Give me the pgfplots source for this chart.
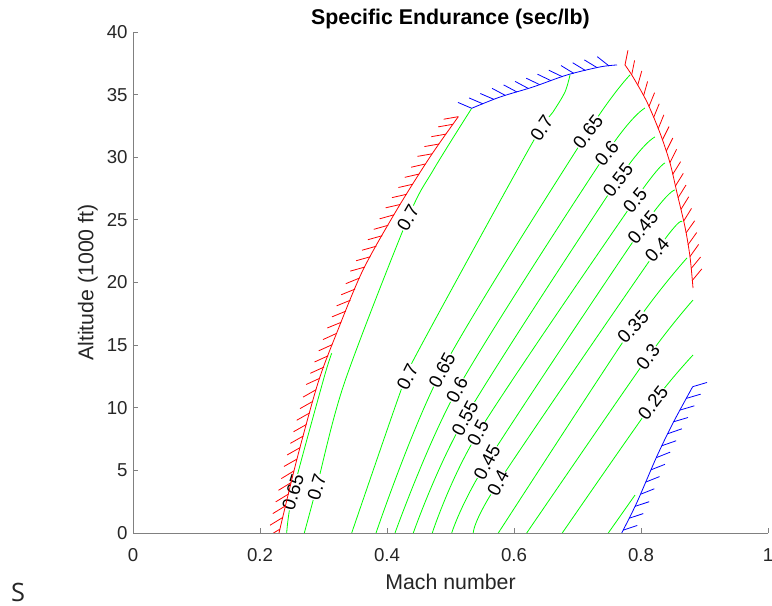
\documentclass[border=0pt]{standalone}
\usepackage{fontspec}
\setmainfont{Liberation Sans}
\newfontfamily\sfont{Open Sans}
\usepackage{pgfplots}
\usepackage{pgfplotstable}
\pgfplotsset{compat=1.18}
\definecolor{axgray}{RGB}{128,128,128}
\definecolor{labgray}{RGB}{38,38,38}
\definecolor{cgreen}{RGB}{0,255,0}
\definecolor{cred}{RGB}{255,0,0}
\definecolor{cblue}{RGB}{0,0,255}
\tikzset{
  clab/.style={fill=white,inner sep=0.3pt,text=black,font=\fontsize{14}{15}\selectfont}
}
% hatch bases (x y) and hatch vectors (u v), data units
\pgfplotstableread{
x y u v
0.2314 0.311 -0.01747 -0.5405
0.2359 1.242 -0.01747 -0.5405
0.2403 2.172 -0.01747 -0.5405
0.2448 3.106 -0.01747 -0.5405
0.2492 4.032 -0.01747 -0.5405
0.2537 4.966 -0.01747 -0.5405
0.2582 5.898 -0.01781 -0.511
0.2632 6.818 -0.01781 -0.511
0.2683 7.745 -0.01781 -0.511
0.2733 8.671 -0.01781 -0.511
0.2783 9.589 -0.01781 -0.511
0.2834 10.515 -0.01781 -0.511
0.2884 11.441 -0.01781 -0.511
0.2941 12.351 -0.01863 -0.430
0.3007 13.246 -0.01863 -0.430
0.3073 14.148 -0.01863 -0.430
0.3139 15.042 -0.01863 -0.430
0.3206 15.936 -0.01863 -0.430
0.3278 16.822 -0.01894 -0.394
0.3351 17.709 -0.01894 -0.394
0.3424 18.587 -0.01894 -0.394
0.3497 19.473 -0.01894 -0.394
0.3569 20.359 -0.01894 -0.394
0.3648 21.230 -0.01971 -0.281
0.3740 22.060 -0.01971 -0.281
0.3833 22.898 -0.01971 -0.281
0.3925 23.737 -0.01971 -0.281
0.4018 24.567 -0.01971 -0.281
0.4110 25.405 -0.01971 -0.281
0.4207 26.228 -0.01995 -0.2318
0.4308 27.042 -0.01995 -0.2318
0.4408 27.848 -0.01995 -0.2318
0.4509 28.663 -0.01995 -0.2318
0.4609 29.469 -0.01995 -0.2318
0.4712 30.275 -0.02017 -0.1786
0.4821 31.058 -0.02017 -0.1786
0.4930 31.848 -0.02017 -0.1786
0.5039 32.631 -0.02017 -0.1786
0.5123 33.240 -0.02017 -0.1786
}\hatchRedLeft
\pgfplotstableread{
x y u v
0.7748 37.365 0.00401 1.018
0.7853 36.567 0.00401 1.018
0.7948 35.740 0.00556 0.999
0.8040 34.905 0.00556 0.999
0.8125 34.051 0.00775 0.961
0.8198 33.166 0.00775 0.961
0.8271 32.283 0.00775 0.961
0.8336 31.383 0.00917 0.928
0.8396 30.474 0.00917 0.928
0.8455 29.563 0.00917 0.928
0.8499 28.631 0.01082 0.881
0.8541 27.698 0.01082 0.881
0.8584 26.765 0.01079 0.882
0.8628 25.832 0.01079 0.882
0.8671 24.898 0.01079 0.882
0.8709 23.959 0.01189 0.845
0.8740 23.013 0.01189 0.845
0.8771 22.068 0.01189 0.845
0.8789 21.113 0.01302 0.801
0.8807 20.158 0.01302 0.801
}\hatchRedRight
\pgfplotstableread{
x y u v
0.5334 33.908 -0.01882 0.4088
0.5510 34.264 -0.01882 0.4088
0.5685 34.619 -0.01882 0.4088
0.5863 34.938 -0.01806 0.4888
0.6044 35.216 -0.01806 0.4888
0.6225 35.494 -0.01806 0.4888
0.6404 35.797 -0.01846 0.4485
0.6582 36.115 -0.01846 0.4485
0.6760 36.434 -0.01846 0.4485
0.6941 36.699 -0.01747 0.5407
0.7125 36.924 -0.01747 0.5407
0.7309 37.150 -0.01747 0.5407
0.7496 37.290 -0.01606 0.6433
}\hatchBlueTop
\pgfplotstableread{
x y u v
0.8814 11.681 0.01963 0.2948
0.8714 10.747 0.01963 0.2948
0.8614 9.814 0.01963 0.2948
0.8514 8.881 0.01963 0.2948
0.8422 7.927 0.01933 0.3414
0.8331 6.971 0.01933 0.3414
0.8240 6.014 0.01903 0.3821
0.8158 5.043 0.01903 0.3821
0.8074 4.065 0.01903 0.3821
0.7991 3.090 0.01903 0.3821
0.7905 2.122 0.01943 0.3276
0.7812 1.173 0.01943 0.3276
0.7718 0.223 0.01943 0.3276
}\hatchBlueRight
\begin{document}
\begin{tikzpicture}
\useasboundingbox (0,0) rectangle (579pt,454.5pt);
\node[font=\sfont\fontsize{19}{21}\selectfont,text=black!85] at (13.5pt,10.5pt) {S};
\begin{axis}[
  at={(99.75pt,54.75pt)}, anchor=south west,
  scale only axis, width=476.25pt, height=375.75pt,
  xmin=0, xmax=1, ymin=0, ymax=40,
  axis x line*=bottom, axis y line*=left,
  axis line style={draw=axgray, line width=0.6pt, -},
  tick style={draw=axgray, line width=0.6pt},
  tick align=inside, major tick length=4pt,
  xtick={0,0.2,0.4,0.6,0.8,1}, ytick={0,5,10,15,20,25,30,35,40},
  /pgf/number format/assume math mode=true,
  tick label style={font=\fontsize{14}{15}\selectfont, text=labgray},
  xticklabel style={yshift=-8pt},
  yticklabel style={xshift=-0.5pt},
  xlabel={Mach number}, ylabel={Altitude (1000 ft)},
  label style={font=\fontsize{16}{17}\selectfont, text=labgray},
  xlabel style={at={(axis description cs:0.5,-0.098)}, anchor=center},
  ylabel style={at={(axis description cs:-0.071,0.5)}, anchor=center},
  title={Specific Endurance (sec/lb)},
  every axis title shift=0pt,
  title style={font=\bfseries\fontsize{16}{17}\selectfont, text=black, at={(axis description cs:0.5,1.026)}, anchor=center},
]
% contours
\addplot[cgreen, line width=0.6pt, smooth] coordinates {(0.242,0) (0.252,3.27) (0.2997,12.2) (0.3129,14.35)};
\addplot[cgreen, line width=0.6pt, smooth] coordinates {(0.2698,0) (0.2893,3.67) (0.333,12.0) (0.4331,25.15) (0.4729,28.98) (0.5334,33.91)};
\addplot[cgreen, line width=0.6pt, smooth] coordinates {(0.3444,0) (0.4205,11.18) (0.4441,14.05) (0.6252,30.82) (0.6614,33.61) (0.6803,35.21) (0.6882,36.57)};
\addplot[cgreen, line width=0.6pt, smooth] coordinates {(0.3827,0) (0.4866,13.01) (0.7165,32.02) (0.7827,36.57)};
\addplot[cgreen, line width=0.6pt, smooth] coordinates {(0.4126,0) (0.5102,11.42) (0.746,30.34) (0.8063,33.93)};
\addplot[cgreen, line width=0.6pt, smooth] coordinates {(0.4414,0) (0.5228,9.18) (0.7638,28.18) (0.822,31.62)};
\addplot[cgreen, line width=0.6pt, smooth] coordinates {(0.4713,0) (0.5433,7.98) (0.7906,26.59) (0.8378,29.54)};
\addplot[cgreen, line width=0.6pt, smooth] coordinates {(0.5019,0) (0.5575,5.67) (0.8031,24.43) (0.8535,27.39)};
\addplot[cgreen, line width=0.6pt, smooth] coordinates {(0.5359,0) (0.5748,3.99) (0.8252,22.59) (0.8646,24.83)};
\addplot[cgreen, line width=0.6pt, smooth] coordinates {(0.5753,0) (0.7874,16.45) (0.8724,21.96)};
\addplot[cgreen, line width=0.6pt, smooth] coordinates {(0.62,0) (0.811,14.05) (0.8819,18.6)};
\addplot[cgreen, line width=0.6pt, smooth] coordinates {(0.676,0) (0.8189,10.38) (0.8819,14.21)};
\addplot[cgreen, line width=0.6pt, smooth] coordinates {(0.7485,0) (0.7906,3.03)};
% contour labels
\node[clab,rotate=73] at (axis cs:0.252,3.27) {0.65};
\node[clab,rotate=73] at (axis cs:0.2893,3.67) {0.7};
\node[clab,rotate=60] at (axis cs:0.4331,25.15) {0.7};
\node[clab,rotate=63] at (axis cs:0.4323,12.46) {0.7};
\node[clab,rotate=62] at (axis cs:0.4866,13.01) {0.65};
\node[clab,rotate=62] at (axis cs:0.5102,11.42) {0.6};
\node[clab,rotate=62] at (axis cs:0.5228,9.18) {0.55};
\node[clab,rotate=62] at (axis cs:0.5433,7.98) {0.5};
\node[clab,rotate=62] at (axis cs:0.5575,5.67) {0.45};
\node[clab,rotate=62] at (axis cs:0.5748,3.99) {0.4};
\node[clab,rotate=56] at (axis cs:0.6436,32.31) {0.7};
\node[clab,rotate=52] at (axis cs:0.7165,32.02) {0.65};
\node[clab,rotate=50] at (axis cs:0.746,30.34) {0.6};
\node[clab,rotate=52] at (axis cs:0.7638,28.18) {0.55};
\node[clab,rotate=50] at (axis cs:0.7906,26.59) {0.5};
\node[clab,rotate=50] at (axis cs:0.8031,24.43) {0.45};
\node[clab,rotate=48] at (axis cs:0.8252,22.59) {0.4};
\node[clab,rotate=47] at (axis cs:0.7874,16.45) {0.35};
\node[clab,rotate=52] at (axis cs:0.811,14.05) {0.3};
\node[clab,rotate=52] at (axis cs:0.8189,10.38) {0.25};
% boundaries
\addplot[cred, line width=0.6pt, smooth] coordinates {(0.2299,0) (0.2578,5.83) (0.2913,11.98) (0.3208,15.97) (0.3622,21.0) (0.4153,25.79) (0.4677,30.02) (0.5123,33.24)};
\addplot[cred, line width=0.6pt, smooth] coordinates {(0.7748,37.37) (0.7874,36.41) (0.8094,34.41) (0.8299,31.94) (0.8457,29.54) (0.8567,27.15) (0.8693,24.43) (0.8772,22.04) (0.8819,19.56)};
\addplot[cblue, line width=0.6pt, smooth] coordinates {(0.5334,33.91) (0.578,34.81) (0.6299,35.61) (0.6835,36.57) (0.7354,37.21) (0.7622,37.37)};
\addplot[cblue, line width=0.6pt, smooth] coordinates {(0.8814,11.68) (0.8504,8.78) (0.8247,6.09) (0.7932,2.4) (0.7696,0)};
% hatches
\addplot[cred, line width=0.6pt, -, quiver={u=\thisrow{u}, v=\thisrow{v}, scale arrows=1.15}] table[x=x, y=y] {\hatchRedLeft};
\addplot[cred, line width=0.6pt, -, quiver={u=\thisrow{u}, v=\thisrow{v}, scale arrows=1.15}] table[x=x, y=y] {\hatchRedRight};
\addplot[cblue, line width=0.6pt, -, quiver={u=\thisrow{u}, v=\thisrow{v}, scale arrows=1.15}] table[x=x, y=y] {\hatchBlueTop};
\addplot[cblue, line width=0.6pt, -, quiver={u=\thisrow{u}, v=\thisrow{v}, scale arrows=1.15}] table[x=x, y=y] {\hatchBlueRight};
\end{axis}
\end{tikzpicture}
\end{document}
